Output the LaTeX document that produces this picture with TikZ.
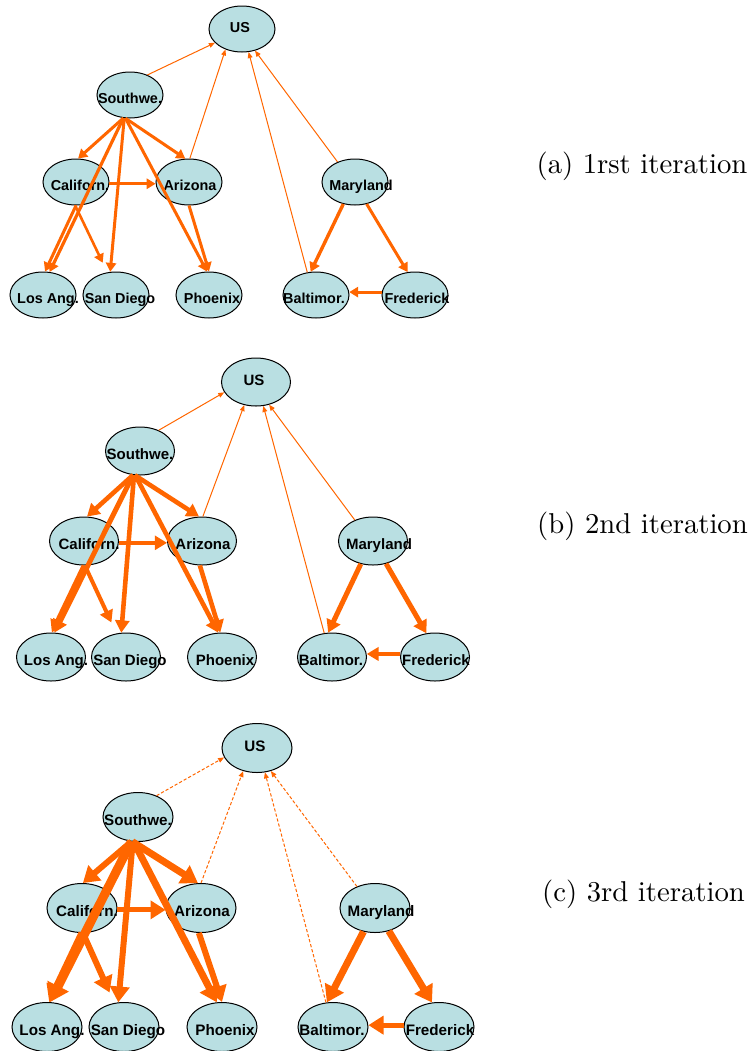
\documentclass[tikz,border=0pt]{standalone}
\usepackage{fontspec}
\usepackage{graphicx}
\usetikzlibrary{shapes.geometric,arrows.meta}
\newfontfamily\citysans{Liberation Sans}
\definecolor{cityfill}{RGB}{185,223,226}
\definecolor{flow}{RGB}{255,102,0}
% label of zero width, optionally moved right by #1 (in picture pixels)
\newcommand\cityname[2][0]{\makebox[0pt]{\hspace{#1pt}#2}}
\tikzset{
  city/.style={ellipse, draw=black, line width=0.5pt, fill=cityfill, inner sep=0pt,
    text height=8.2pt, text depth=0pt},
  top/.style={text height=3.4pt},
  citya/.style={city, minimum width=33pt, minimum height=23pt,
    font=\citysans\bfseries\fontsize{7.2}{8}\selectfont},
  cityb/.style={city, minimum width=34.5pt, minimum height=24pt,
    font=\citysans\bfseries\fontsize{7.5}{8}\selectfont},
  cityc/.style={city, minimum width=35pt, minimum height=24.5pt,
    font=\citysans\bfseries\fontsize{7.6}{8}\selectfont},
  link/.style={draw=flow, line width=0.5pt, -{Triangle[length=3pt,width=2.4pt]}},
  linkdash/.style={link, dash pattern=on 1.6pt off 1pt},
  flowa/.style={draw=flow, line width=#1, -{Triangle[length=3.6pt 0.6,width=3.5pt 1.1]}},
  flowb/.style={draw=flow, line width=#1, -{Triangle[length=4.8pt 0.6,width=4.5pt 1.1]}},
  flowc/.style={draw=flow, line width=#1, -{Triangle[length=5.8pt 0.7,width=6pt 1.2]}},
  caption/.style={anchor=base, inner sep=0pt, font=\fontsize{10}{12}\selectfont},
}
\begin{document}
\begin{tikzpicture}[x=0.5pt,y=-0.5pt]
\useasboundingbox (0,0) rectangle (752,1051);

% ---------- (a) first iteration ----------
\node[citya,top] (a-us) at (242,29)  {\cityname[-2]{US}};
\node[citya] (a-sw) at (130,95)  {\cityname{Southwe.}};
\node[citya] (a-ca) at (76,182)  {\cityname[4]{Californ.}};
\node[citya] (a-az) at (189,182) {\cityname[1]{Arizona}};
\node[citya] (a-md) at (355,182) {\cityname[6]{Maryland}};
\node[citya] (a-la) at (43,295)  {\cityname[5]{Los Ang.}};
\node[citya] (a-sd) at (116,295) {\cityname[4]{San Diego}};
\node[citya] (a-ph) at (209,295) {\cityname[3]{Phoenix}};
\node[citya] (a-ba) at (316,295) {\cityname[-2]{Baltimor.}};
\node[citya] (a-fr) at (415,295) {\cityname[2]{Frederick}};

\draw[link] (a-sw.49) -- (a-us.207);
\draw[link] (a-az.88) -- (a-us.231);
\draw[link] (a-ba.111) -- (a-us.286);
\draw[link] (a-md.131) -- (a-us.301);
\draw[flowa=1.5pt] (a-sw.254) -- (a-ca.85);
\draw[flowa=1.5pt] (a-sw.259) -- (a-az.99);
\draw[flowa=1.6pt] (a-sw.254) -- (a-la.74);
\draw[flowa=1.5pt] (a-ca.270) -- (a-la.85);
\draw[flowa=1.3pt, shorten >=5.3pt] (a-ca.268) -- (a-sd.111);
\draw[flowa=1.5pt] (a-sw.256) -- (a-sd.104);
\draw[flowa=1.5pt] (a-sw.259) -- (a-ph.95);
\draw[flowa=1.5pt] (a-az.270) -- (a-ph.90);
\draw[flowa=1.5pt] (a-ca.357) -- (a-az.183);
\draw[flowa=1.7pt] (a-md.242) -- (a-ba.103);
\draw[flowa=1.5pt] (a-md.298) -- (a-fr.108);
\draw[flowa=1.5pt] (a-fr.175) -- (a-ba.5);

\node[caption] (cap-a) at (642,173) {\scalebox{1.435}{(a) 1rst iteration}};

% ---------- (b) second iteration ----------
\node[cityb,top] (b-us) at (256,382) {\cityname[-2]{US}};
\node[cityb] (b-sw) at (140,451) {\cityname{Southwe.}};
\node[cityb] (b-ca) at (84,541)  {\cityname[5]{Californ.}};
\node[cityb] (b-az) at (202,541) {\cityname[1]{Arizona}};
\node[cityb] (b-md) at (373,541) {\cityname[6]{Maryland}};
\node[cityb] (b-la) at (51,657)  {\cityname[5]{Los Ang.}};
\node[cityb] (b-sd) at (126,657) {\cityname[4]{San Diego}};
\node[cityb] (b-ph) at (222,657) {\cityname[3]{Phoenix}};
\node[cityb] (b-ba) at (332,657) {\cityname[-1]{Baltimor.}};
\node[cityb] (b-fr) at (435,657) {\cityname[1]{Frederick}};

\draw[link] (b-sw.48) -- (b-us.198);
\draw[link] (b-az.88) -- (b-us.243);
\draw[link] (b-ba.108) -- (b-us.287);
\draw[link] (b-md.131) -- (b-us.300);
\draw[flowb=2.3pt] (b-sw.254) -- (b-ca.83);
\draw[flowb=2.3pt] (b-sw.258) -- (b-az.97);
\draw[flowb=2.5pt] (b-sw.254) -- (b-la.82);
\draw[flowb=2.3pt] (b-ca.270) -- (b-la.88);
\draw[flowb=2pt, shorten >=6pt] (b-ca.272) -- (b-sd.112);
\draw[flowb=2.3pt] (b-sw.256) -- (b-sd.101);
\draw[flowb=2.3pt] (b-sw.259) -- (b-ph.99);
\draw[flowb=2.3pt] (b-az.265) -- (b-ph.94);
\draw[flowb=2.2pt] (b-ca.357) -- (b-az.183);
\draw[flowb=2.5pt] (b-md.242) -- (b-ba.99);
\draw[flowb=2.5pt] (b-md.300) -- (b-fr.110);
\draw[flowb=2pt] (b-fr.175) -- (b-ba.5);

\node[caption] (cap-b) at (642.5,533) {\scalebox{1.435}{(b) 2nd iteration}};

% ---------- (c) third iteration ----------
\node[cityc,top] (c-us) at (257,748)  {\cityname[-2]{US}};
\node[cityc] (c-sw) at (138,817)  {\cityname{Southwe.}};
\node[cityc] (c-ca) at (82,908)   {\cityname[5]{Californ.}};
\node[cityc] (c-az) at (201,908)  {\cityname[1]{Arizona}};
\node[cityc] (c-md) at (375,908)  {\cityname[6]{Maryland}};
\node[cityc] (c-la) at (47,1027)  {\cityname[5]{Los Ang.}};
\node[cityc] (c-sd) at (124,1027) {\cityname[4]{San Diego}};
\node[cityc] (c-ph) at (222,1027) {\cityname[3]{Phoenix}};
\node[cityc] (c-ba) at (333,1027) {\cityname[-1]{Baltimor.}};
\node[cityc] (c-fr) at (439,1027) {\cityname[1]{Frederick}};

\draw[linkdash] (c-sw.49) -- (c-us.196);
\draw[linkdash] (c-az.90) -- (c-us.239);
\draw[linkdash] (c-ba.106) -- (c-us.288);
\draw[linkdash] (c-md.130) -- (c-us.301);
\draw[flowc=3pt] (c-sw.255) -- (c-ca.88);
\draw[flowc=3.5pt] (c-sw.257) -- (c-az.97);
\draw[flowc=4.5pt] (c-sw.255) -- (c-la.83);
\draw[flowc=3.5pt] (c-ca.270) -- (c-la.85);
\draw[flowc=3pt, shorten >=5.75pt] (c-ca.272) -- (c-sd.112);
\draw[flowc=3pt] (c-sw.258) -- (c-sd.103);
\draw[flowc=3.5pt] (c-sw.260) -- (c-ph.102);
\draw[flowc=3pt] (c-az.265) -- (c-ph.90);
\draw[flowc=2.5pt] (c-ca.357) -- (c-az.183);
\draw[flowc=3.5pt] (c-md.244) -- (c-ba.104);
\draw[flowc=3.5pt] (c-md.301) -- (c-fr.106);
\draw[flowc=2.5pt] (c-fr.177) -- (c-ba.3);

\node[caption] (cap-c) at (643.5,901) {\scalebox{1.435}{(c) 3rd iteration}};
\end{tikzpicture}
\end{document}
